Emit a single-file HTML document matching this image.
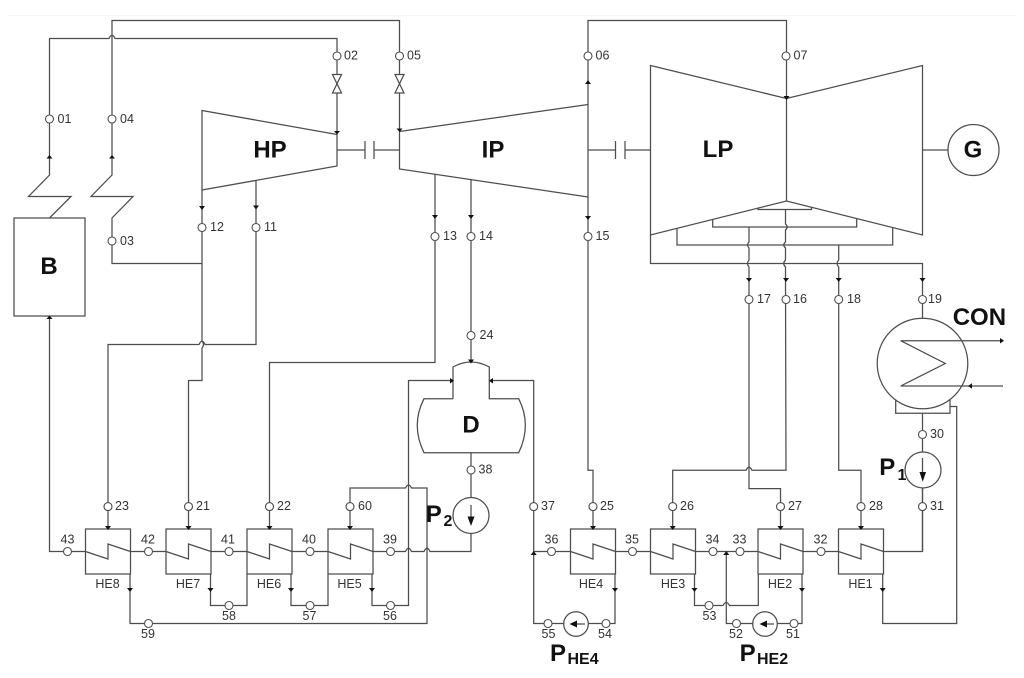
<!DOCTYPE html>
<html><head><meta charset="utf-8"><style>
html,body{margin:0;padding:0;background:#fff}
svg{display:block;filter:blur(0.35px)}
.l{fill:none;stroke:#4d4d4d;stroke-width:1.25}
.n{fill:#fff;stroke:#4d4d4d;stroke-width:1.1}
.a{fill:#111;stroke:none}
text{font-family:"Liberation Sans",sans-serif;fill:#333;font-size:12.5px}
.m{text-anchor:middle}
.b{font-weight:bold;fill:#111;font-size:24px}
.s{font-weight:bold;fill:#111;font-size:16px}
</style></head><body>
<svg width="1024" height="678" viewBox="0 0 1024 678" xmlns="http://www.w3.org/2000/svg">
<rect width="1024" height="678" fill="#fff"/>
<path d="M9 15.5H1015" stroke="#f5f5f5" fill="none"/>
<g class="l">
<!-- steam lines top -->
<path d="M399.5 131V20.5H112V175L91 196.5H133L112 218V263.5H202"/>
<path d="M49.5 218L71 196.5H28.5L49.5 175V38.5H109Q112 32 115 38.5H337V133"/>
<rect x="14" y="218" width="71" height="98"/>
<path fill="#fff" d="M332.5 74.5H341.5L332.5 93H341.5Z"/>
<path fill="#fff" d="M395 74.5H404L395 93H404Z"/>
<!-- HP IP LP -->
<path d="M202 110.5L337 134.5V166L202 190Z"/>
<path d="M337 150H365M374 150H399.5M365 141V159M374 141V159"/>
<path d="M399.5 131.5L588 104.5M399.5 131V169L588 197"/>
<path d="M588 197V20.5H786.5V201"/>
<path d="M588 150H615.5M625 150H650.5M615.5 141V159M625 141V159"/>
<path d="M650.5 65.5L786.5 98.5L922.5 65.5V235L786.5 201L650.5 235Z"/>
<circle cx="973.5" cy="150" r="25.5"/>
<path d="M922.5 150H948"/>
<!-- LP extractions -->
<path d="M758 207.5V209.5H811.5V207.5"/>
<path d="M712.7 219V227H856.7V219"/>
<path d="M677 228V245H892.7V228"/>
<path d="M650.5 235V263.5H922.5V318"/>
<path d="M785.5 209.5V224Q789 227 785.5 230V242Q782 245 785.5 248V260Q782 263.5 785.5 267V280L786 470.3H752Q749 464 746 470.3H672.7V529"/>
<path d="M749 227V242Q746 245 749 248V260Q746 263.5 749 267V488.6H780.5V529"/>
<path d="M838.7 245V260Q835.5 263.5 838.7 267V470.3H861V529"/>
<!-- extraction to heaters -->
<path d="M202 190V341Q205 344.5 202 348V380.5H188.5V529"/>
<path d="M256 180V344.5H205Q202 338 199 344.5H108V529"/>
<path d="M435 174V362.5H269.5V529"/>
<path d="M471 179V361"/>
<path d="M588 197V470.3H593V529"/>
<!-- Deaerator -->
<path d="M453 398.7V367Q471 357 489.3 367V398.7H518.7Q532 425 518.7 452.7H424Q410.5 425 424 398.7H453"/>
<path d="M471 452.7V497.5M471 533.5V551.5H430Q427 545 424 551.5H411.5Q408.5 545 405.5 551.5H373"/>
<circle cx="471" cy="515.5" r="18"/>
<path d="M471 505V518"/>
<!-- heaters -->
<rect x="85.5" y="529" width="45" height="45"/>
<rect x="166" y="529" width="45" height="45"/>
<rect x="247" y="529" width="45" height="45"/>
<rect x="328" y="529" width="45" height="45"/>
<rect x="570.5" y="529" width="45" height="45"/>
<rect x="650.5" y="529" width="45" height="45"/>
<rect x="758" y="529" width="45" height="45"/>
<rect x="838.5" y="529" width="45" height="45"/>
<path d="M85.5 551.5L108 559V544L130.5 551.5"/>
<path d="M166 551.5L188.5 559V544L211 551.5"/>
<path d="M247 551.5L269.5 559V544L292 551.5"/>
<path d="M328 551.5L350.5 559V544L373 551.5"/>
<path d="M570.5 551.5L593 559V544L615.5 551.5"/>
<path d="M650.5 551.5L673 559V544L695.5 551.5"/>
<path d="M758 551.5L780.5 559V544L803 551.5"/>
<path d="M838.5 551.5L861 559V544L883.5 551.5"/>
<!-- feedwater row -->
<path d="M49.5 316V551.5H85.5M130.5 551.5H166M211 551.5H247M292 551.5H328"/>
<path d="M533.7 551.5H570.5M615.5 551.5H650.5M695.5 551.5H758M803 551.5H838.5M883.5 551.5H922.5V488"/>
<!-- drains -->
<path d="M130 574V623.5H427V488H411.5Q408.5 482 405.5 488H350V529"/>
<path d="M210.5 574V605.5H247V574M291 574V605.5H328V574"/>
<path d="M372 574V605.5H408.5V380.5H453"/>
<path d="M489.3 380.5H533.7V623.5H563.7M588.3 623.5H615V574"/>
<circle cx="576" cy="624" r="12.3"/>
<path d="M585 624H575"/>
<path d="M694.5 574V605.5H723Q726.3 599.5 729.5 605.5H758.3V574"/>
<path d="M726.3 551.5V623.5H752.7M777.3 623.5H802V574"/>
<circle cx="765" cy="624" r="12.3"/>
<path d="M774 624H764"/>
<!-- condenser -->
<path d="M895.7 400V413.3H950V400"/>
<circle cx="922.5" cy="363.5" r="45.3"/>
<path d="M1002 340.7H900.7L945.3 363.5L900.7 386H1003"/>
<path d="M950 406.5H956.7V623.5H882.7V574"/>
<path d="M922.5 413.3V452"/>
<circle cx="923" cy="470" r="18"/>
<path d="M922.5 488V551.5"/>
<path d="M922.5 458V474"/>
</g>
<!-- arrowheads -->
<g class="a">
<path d="M46.5 158.5H52.5L49.5 155Z"/><path d="M109 158.5H115L112 155Z"/>
<path d="M46.5 319H52.5L49.5 315.5Z"/>
<path d="M334 131H340L337 134.5Z"/><path d="M396.5 128.5H402.5L399.5 132Z"/>
<path d="M199 206H205L202 210Z"/><path d="M253 205.5H259L256 209.5Z"/>
<path d="M432 215H438L435 219Z"/><path d="M468 215H474L471 219Z"/><path d="M585 216H591L588 220Z"/>
<path d="M585 84H591L588 80Z"/><path d="M783.5 96H789.5L786.5 100Z"/>
<path d="M746 278H752L749 282Z"/><path d="M783 278H789L786 282Z"/><path d="M835.7 278H841.7L838.7 282Z"/><path d="M919.5 278H925.5L922.5 282Z"/>
<path d="M468 359.5H474L471 363.5Z"/>
<path d="M450 378V383.5L454 380.7Z"/><path d="M493 378V383.5L489 380.7Z"/>
<path d="M467.5 516.5H474.5L471 526Z"/><path d="M919.500 472H926L922.700 481.700Z"/>
<path d="M577 620.500V627.500L569.500 624Z"/>
<path d="M767 620.500V627.500L759.500 624Z"/>
<path d="M105 526H111L108 530Z"/><path d="M185.500 526H191.500L188.500 530Z"/><path d="M266.500 526H272.500L269.500 530Z"/><path d="M347 526H353L350 530Z"/>
<path d="M590 526H596L593 530Z"/><path d="M669.700 526H675.700L672.700 530Z"/><path d="M777.500 526H783.500L780.500 530Z"/><path d="M858 526H864L861 530Z"/>
<path d="M127 588H133L130 592Z"/><path d="M207.500 588H213.500L210.500 592Z"/><path d="M288 588H294L291 592Z"/><path d="M369 588H375L372 592Z"/>
<path d="M612 588H618L615 592Z"/><path d="M691.500 588H697.500L694.500 592Z"/><path d="M799 588H805L802 592Z"/><path d="M879.700 588H885.700L882.700 592Z"/>
<path d="M530.700 555H536.700L533.700 551Z"/><path d="M723.300 555H729.300L726.300 551Z"/>
<path d="M1000 338V343.5L1004 340.700Z"/><path d="M972 383.200V388.800L968 386Z"/>
</g>
<!-- nodes -->
<g class="n">
<circle cx="49.500" cy="119" r="4"/><circle cx="112" cy="119" r="4"/><circle cx="112" cy="241" r="4"/>
<circle cx="337" cy="56" r="4"/><circle cx="399.500" cy="56" r="4"/><circle cx="588" cy="56" r="4"/><circle cx="786" cy="56" r="4"/>
<circle cx="202" cy="227.500" r="4"/><circle cx="256" cy="227.500" r="4"/><circle cx="435" cy="236.500" r="4"/><circle cx="471" cy="236.500" r="4"/><circle cx="588" cy="236.500" r="4"/>
<circle cx="471" cy="335.500" r="4"/><circle cx="471" cy="470" r="4"/>
<circle cx="749" cy="299.500" r="4"/><circle cx="786" cy="299.500" r="4"/><circle cx="838.700" cy="299.500" r="4"/><circle cx="922.500" cy="299.500" r="4"/>
<circle cx="922.500" cy="434.500" r="4"/><circle cx="922.500" cy="506.600" r="4"/>
<circle cx="108" cy="506.600" r="4"/><circle cx="188.500" cy="506.600" r="4"/><circle cx="269.500" cy="506.600" r="4"/><circle cx="350" cy="506.600" r="4"/>
<circle cx="533.700" cy="506.600" r="4"/><circle cx="593" cy="506.600" r="4"/><circle cx="672.700" cy="506.600" r="4"/><circle cx="780.500" cy="506.600" r="4"/><circle cx="861" cy="506.600" r="4"/>
<circle cx="67.500" cy="551.500" r="4"/><circle cx="148.500" cy="551.500" r="4"/><circle cx="229" cy="551.500" r="4"/><circle cx="310" cy="551.500" r="4"/><circle cx="390.500" cy="551.500" r="4"/>
<circle cx="551.500" cy="551.500" r="4"/><circle cx="632.500" cy="551.500" r="4"/><circle cx="713" cy="551.500" r="4"/><circle cx="740" cy="551.500" r="4"/><circle cx="821" cy="551.500" r="4"/>
<circle cx="229" cy="605.500" r="4"/><circle cx="310" cy="605.500" r="4"/><circle cx="390.500" cy="605.500" r="4"/><circle cx="709" cy="605.500" r="4"/>
<circle cx="148.500" cy="623.500" r="4"/><circle cx="548" cy="623.500" r="4"/><circle cx="606" cy="623.500" r="4"/><circle cx="736.500" cy="623.500" r="4"/><circle cx="794" cy="623.500" r="4"/>
</g>
<!-- labels -->
<text x="57.500" y="123">01</text><text x="120" y="123">04</text><text x="120" y="245">03</text>
<text x="344" y="59.500">02</text><text x="407" y="59.500">05</text><text x="595.500" y="59.500">06</text><text x="793.500" y="59.500">07</text>
<text x="210" y="231">12</text><text x="264" y="231">11</text><text x="443" y="240">13</text><text x="479" y="240">14</text><text x="595.500" y="240">15</text>
<text x="479.500" y="339">24</text><text x="478.500" y="473.500">38</text>
<text x="757" y="303">17</text><text x="793" y="303">16</text><text x="847" y="303">18</text><text x="928" y="303">19</text>
<text x="930" y="438">30</text><text x="930" y="510">31</text>
<text x="115" y="510">23</text><text x="196" y="510">21</text><text x="277" y="510">22</text><text x="358" y="510">60</text>
<text x="541" y="510">37</text><text x="600" y="510">25</text><text x="680" y="510">26</text><text x="788" y="510">27</text><text x="869" y="510">28</text>
<g class="m">
<text x="67.500" y="543.500">43</text><text x="148" y="543.500">42</text><text x="228" y="543.500">41</text><text x="309" y="543.500">40</text><text x="390" y="543.500">39</text>
<text x="551.500" y="543.500">36</text><text x="632" y="543.500">35</text><text x="712.500" y="543.500">34</text><text x="739.500" y="543.500">33</text><text x="820.500" y="543.500">32</text>
<text x="107.500" y="588">HE8</text><text x="188" y="588">HE7</text><text x="269" y="588">HE6</text><text x="349.500" y="588">HE5</text>
<text x="591" y="588">HE4</text><text x="673" y="588">HE3</text><text x="780" y="588">HE2</text><text x="860.500" y="588">HE1</text>
<text x="229" y="620">58</text><text x="309.500" y="620">57</text><text x="390" y="620">56</text><text x="709.500" y="620">53</text>
<text x="148" y="638">59</text><text x="548.500" y="638">55</text><text x="605" y="638">54</text><text x="736" y="638">52</text><text x="793" y="638">51</text>
</g>
<g>
<text class="b" x="49" y="274" text-anchor="middle">B</text>
<text class="b" x="270" y="157.500" text-anchor="middle">HP</text>
<text class="b" x="493" y="157.500" text-anchor="middle">IP</text>
<text class="b" x="718" y="157" text-anchor="middle">LP</text>
<text class="b" x="973" y="157.500" text-anchor="middle">G</text>
<text class="b" x="471" y="432.500" text-anchor="middle">D</text>
<text class="b" x="952.700" y="325">CON</text>
<text class="b" x="425.700" y="522">P</text><text class="s" x="443.500" y="526">2</text>
<text class="b" x="879.300" y="475">P</text><text class="s" x="897.500" y="480">1</text>
<text class="b" x="550" y="661">P</text><text class="s" x="567.500" y="664">HE4</text>
<text class="b" x="739.600" y="661">P</text><text class="s" x="757" y="664">HE2</text>
</g>
</svg>
</body></html>
